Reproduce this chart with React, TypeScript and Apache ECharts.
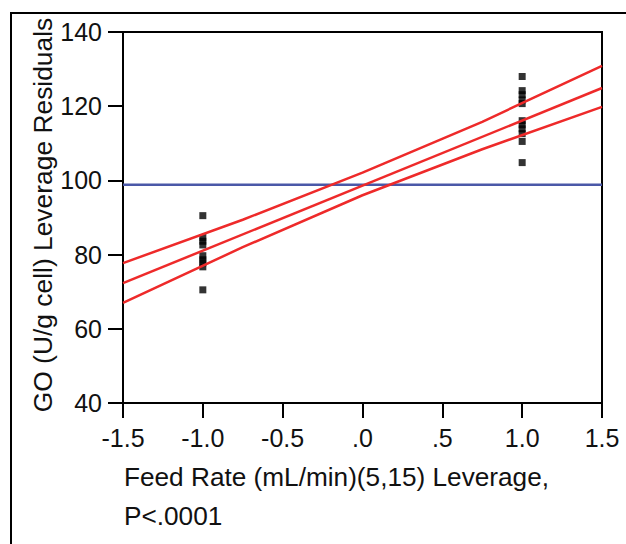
import React, { useEffect, useRef } from "react";
import * as echarts from "echarts";

// Leverage x positions and residual values
const leftX = -1.0;
const leftValues = [90.5, 84.6, 83.6, 82.6, 79.7, 78.6, 77.8, 76.7, 70.5];
const rightX = 1.0;
const rightValues = [128.0, 124.2, 123.1, 121.7, 120.7, 116.1, 115.0, 113.9, 112.6, 110.5, 104.8];

// Fit line and confidence curves
const curveX = [-1.5, -0.75, 0, 0.75, 1.5];
const upperCurve = [77.7, 89.4, 102.1, 115.8, 130.9];
const lowerCurve = [67.0, 82.0, 96.0, 108.4, 119.8];
const fitX = [-1.5, 1.5];
const fitY = [72.3, 124.9];
const meanY = 98.8;

const xTicks = [-1.5, -1.0, -0.5, 0, 0.5, 1.0, 1.5];
const xTickLabels = ["-1.5", "-1.0", "-0.5", ".0", ".5", "1.0", "1.5"];

const yAxisTitle = "GO (U/g cell) Leverage Residuals";
const xAxisTitle1 = "Feed Rate (mL/min)(5,15) Leverage,";
const xAxisTitle2 = "P<.0001";

const FONT = "'Liberation Sans', Arial, sans-serif";

export default function App() {
  const ref = useRef<HTMLDivElement>(null);
  useEffect(() => {
    if (!ref.current) return;
    const chart = echarts.init(ref.current, null, { renderer: "svg" });
    const scatterData = [
      ...leftValues.map((v) => [leftX, v]),
      ...rightValues.map((v) => [rightX, v]),
    ];
    chart.setOption({
      animation: false,
      backgroundColor: "#fff",
      textStyle: { fontFamily: FONT },
      grid: {
        left: 123,
        top: 32,
        right: 24,
        bottom: 141,
        show: true,
        borderColor: "#000",
        borderWidth: 2,
      },
      xAxis: {
        type: "value",
        min: -1.5,
        max: 1.5,
        interval: 0.5,
        splitLine: { show: false },
        axisLine: { show: true, onZero: false, lineStyle: { color: "#000", width: 2 } },
        axisTick: { show: true, length: 15, lineStyle: { color: "#000", width: 2 } },
        axisLabel: {
          color: "#111",
          fontSize: 25,
          fontFamily: FONT,
          margin: 22,
          formatter: (v: number) => {
            const i = xTicks.findIndex((t) => Math.abs(t - v) < 1e-6);
            return i >= 0 ? xTickLabels[i] : "";
          },
        },
      },
      yAxis: {
        type: "value",
        min: 40,
        max: 140,
        interval: 20,
        splitLine: { show: false },
        axisLine: { show: true, onZero: false, lineStyle: { color: "#000", width: 2 } },
        axisTick: { show: true, length: 15, lineStyle: { color: "#000", width: 2 } },
        axisLabel: { color: "#111", fontSize: 25, fontFamily: FONT, margin: 21 },
      },
      graphic: [
        {
          type: "rect",
          shape: { x: 11, y: 13, width: 800, height: 800 },
          style: { fill: "none", stroke: "#000", lineWidth: 2 },
          silent: true,
        },
        {
          type: "text",
          x: 43,
          y: 215,
          rotation: Math.PI / 2,
          style: {
            text: yAxisTitle,
            font: `26.4px ${FONT}`,
            fill: "#111",
            align: "center",
            verticalAlign: "middle",
          },
        },
        {
          type: "text",
          x: 124,
          y: 477,
          style: {
            text: xAxisTitle1,
            font: `26.2px ${FONT}`,
            fill: "#111",
            align: "left",
            verticalAlign: "middle",
          },
        },
        {
          type: "text",
          x: 124,
          y: 516,
          style: {
            text: xAxisTitle2,
            font: `26.2px ${FONT}`,
            fill: "#111",
            align: "left",
            verticalAlign: "middle",
          },
        },
      ],
      series: [
        {
          type: "scatter",
          symbol: "rect",
          symbolSize: 7,
          itemStyle: { color: "#000" },
          data: scatterData,
          z: 2,
        },
        {
          type: "line",
          data: [[-1.5, meanY], [1.5, meanY]],
          symbol: "none",
          lineStyle: { color: "#4a58a8", width: 2.5 },
          z: 3,
        },
        {
          type: "line",
          data: curveX.map((x, i) => [x, upperCurve[i]]),
          symbol: "none",
          lineStyle: { color: "#ee2a2a", width: 2.5 },
          z: 4,
        },
        {
          type: "line",
          data: fitX.map((x, i) => [x, fitY[i]]),
          symbol: "none",
          lineStyle: { color: "#ee2a2a", width: 2.5 },
          z: 4,
        },
        {
          type: "line",
          data: curveX.map((x, i) => [x, lowerCurve[i]]),
          symbol: "none",
          lineStyle: { color: "#ee2a2a", width: 2.5 },
          z: 4,
        },
      ],
    });
    return () => chart.dispose();
  }, []);
  return (
    <div
      ref={ref}
      style={{ position: "fixed", left: 0, top: 0, width: 626, height: 544 }}
    />
  );
}
